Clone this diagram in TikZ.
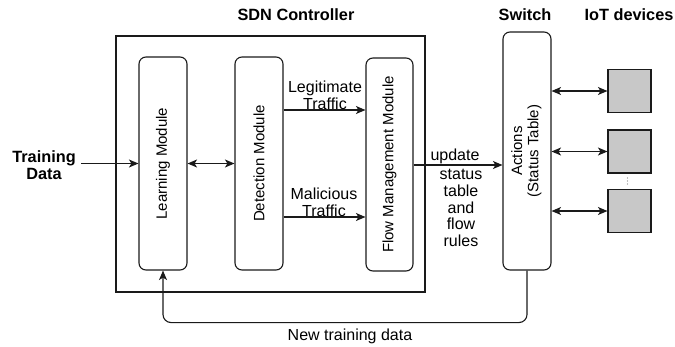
\documentclass[tikz,border=0pt]{standalone}
\usepackage{fontspec}
\setmainfont{Liberation Sans}
\usetikzlibrary{arrows.meta}
\definecolor{devfill}{HTML}{C8C8C8}
\definecolor{edge}{HTML}{1A1A1A}
\begin{document}
\begin{tikzpicture}[x=1pt,y=1pt,line width=1.1pt,draw=edge,
  tip/.style={-{Stealth[length=9.5pt,width=8pt,inset=2.5pt]}},
  tips/.style={{Stealth[length=9.5pt,width=8pt,inset=2.5pt]}-{Stealth[length=9.5pt,width=8pt,inset=2.5pt]}},
  module/.style={draw=edge,rounded corners=7pt,inner sep=0pt,font=\fontsize{15}{16.4}\selectfont},
  device/.style={draw=edge,fill=devfill,minimum width=43pt,minimum height=43pt,inner sep=0pt},
  txt/.style={inner sep=0pt,align=center,font=\fontsize{16}{16.7}\selectfont},
  ttl/.style={inner sep=0pt,align=center,font=\fontsize{16.3}{16.7}\selectfont\bfseries}]
\useasboundingbox (0,0) rectangle (675,-346);
% controller frame
\node[draw=edge,minimum width=309pt,minimum height=256pt,inner sep=0pt] (sdn) at (270.5,-164) {};
% modules
\node[module,minimum width=48pt,minimum height=213pt] (learn) at (163,-163.5) {\rotatebox{90}{Learning Module}};
\node[module,minimum width=48pt,minimum height=213pt] (detect) at (259,-163.5) {\rotatebox{90}{Detection Module}};
\node[module,minimum width=47pt,minimum height=213pt] (flow) at (389.5,-164.5) {\rotatebox{90}{Flow Management Module}};
\node[module,minimum width=48pt,minimum height=238pt] (switch) at (527,-151) {\rotatebox{90}{\begin{tabular}{@{}c@{}}Actions\\(Status Table)\end{tabular}}};
% devices
\node[device] (iot1) at (629.5,-91) {};
\node[device] (iot2) at (629.5,-151.5) {};
\node[device] (iot3) at (629.5,-211) {};
\foreach \yy in {178,181,184} \fill[gray] (627.5,-\yy) circle (0.7pt);
% titles
\node[ttl] (sdntitle) at (296,-15) {SDN Controller};
\node[ttl] (swtitle) at (525,-15) {Switch};
\node[ttl] (iottitle) at (629,-15) {IoT devices};
% texts
\node[ttl] (train) at (44,-165) {Training\\Data};
\node[txt] (legit) at (325,-95) {Legitimate\\Traffic};
\node[txt] (mal) at (324,-202) {Malicious\\Traffic};
\node[txt] (upd) at (455,-156) {update};
\node[txt] (stat) at (461,-208) {status\\table\\and\\flow\\rules};
\node[txt] (newdata) at (350,-336) {New training data};
% connectors
\coordinate (tdstart) at (81,-163.5);
\draw[tip] (tdstart) -- (learn.west);
\draw[tips] (learn.east) -- (detect.west);
\draw[tip] (detect.east |- 0,-110) -- (flow.west |- 0,-110);
\draw[tip] (detect.east |- 0,-217) -- (flow.west |- 0,-217);
\draw[tip] (flow.east |- 0,-165) -- (switch.west |- 0,-165);
\draw[tips] (switch.east |- iot1) -- (iot1.west);
\draw[tips] (switch.east |- iot2) -- (iot2.west);
\draw[tips] (switch.east |- iot3) -- (iot3.west);
\draw[tip,rounded corners=8pt] (switch.south) |- ([yshift=-52pt]learn.south) -- (learn.south);
\end{tikzpicture}
\end{document}
